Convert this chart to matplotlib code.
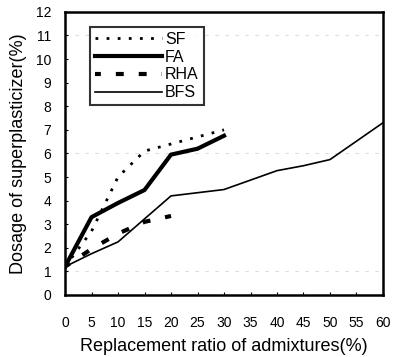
import matplotlib
matplotlib.use("Agg")
import matplotlib.pyplot as plt

plt.rcParams['font.family'] = ['Liberation Sans', 'DejaVu Sans']

# replacement ratio (%) and superplasticizer dosage (%) for each admixture
sf_x = [0, 5, 10, 15, 20, 25, 30]
sf_y = [1.2, 2.7, 5.0, 6.1, 6.4, 6.7, 7.0]

fa_x = [0, 5, 10, 15, 20, 25, 30]
fa_y = [1.2, 3.3, 3.9, 4.45, 5.95, 6.2, 6.75]

rha_x = [0, 5, 10, 15, 20]
rha_y = [1.2, 1.95, 2.6, 3.1, 3.35]

bfs_x = [0, 5, 10, 20, 30, 40, 45, 50, 60]
bfs_y = [1.2, 1.75, 2.25, 4.2, 4.47, 5.27, 5.48, 5.74, 7.3]

x_ticks = list(range(0, 61, 5))
y_ticks = list(range(0, 13))
grid_levels = [1, 6, 11]

fig = plt.figure(figsize=(3.95, 3.57), dpi=100)
ax = fig.add_axes([0.1646, 0.1737, 0.805, 0.793])

for g in grid_levels:
    ax.axhline(g, color='#dcdcdc', lw=0.8, ls=(0, (3, 6)), zorder=0)

ax.plot(sf_x, sf_y, color='black', lw=2.0, ls=(0, (1.0, 3.0)), label='SF')
ax.plot(fa_x, fa_y, color='black', lw=3.0, label='FA')
ax.plot(rha_x, rha_y, color='black', lw=3.0, ls=(0.5, (1.9, 3.6)), label='RHA')
ax.plot(bfs_x, bfs_y, color='black', lw=1.2, label='BFS')

ax.set_xlim(0, 60)
ax.set_ylim(0, 12)
ax.set_xticks(x_ticks)
ax.set_yticks(y_ticks)
ax.tick_params(axis='both', direction='in', length=2.5, width=0.8, labelsize=10)
ax.tick_params(axis='x', pad=15)
ax.tick_params(axis='y', pad=10)
for s in ax.spines.values():
    s.set_linewidth(1.8)

ax.set_xlabel('Replacement ratio of admixtures(%)', fontsize=13, labelpad=6)
ax.set_ylabel('Dosage of superplasticizer(%)', fontsize=13, labelpad=6)

leg = ax.legend(loc='upper left', bbox_to_anchor=(0.079, 0.947), fontsize=11.5,
                handlelength=4.2, handletextpad=0.2, labelspacing=0.18,
                borderpad=0.3, borderaxespad=0, fancybox=False, frameon=True)
leg.get_frame().set_edgecolor('black')
leg.get_frame().set_linewidth(1.5)

fig.savefig('out.png', dpi=100)
